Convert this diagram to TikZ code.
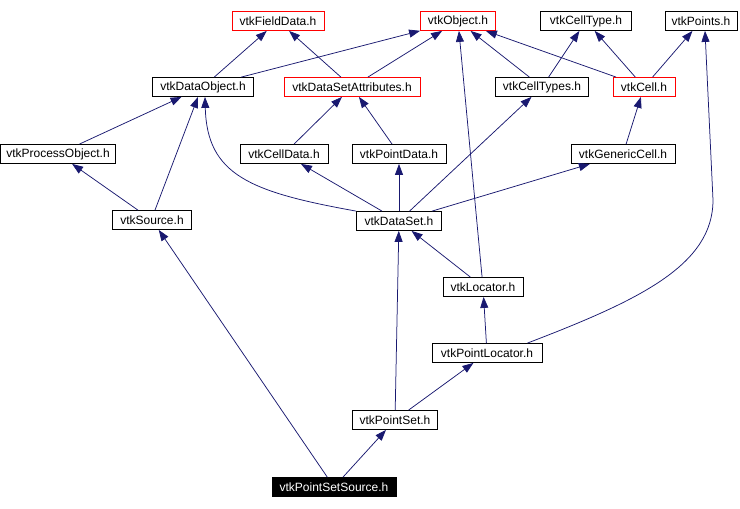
\documentclass[tikz,border=0pt]{standalone}
\usepackage{fontspec}
\setmainfont{Liberation Sans}
\usetikzlibrary{arrows.meta}
\definecolor{edgeblue}{HTML}{191970}

\begin{document}
\begin{tikzpicture}[x=1pt, y=-1pt,
        file/.style={draw=black, fill=white, line width=0.8pt, inner xsep=2pt, inner ysep=0pt, minimum height=19pt, font=\fontsize{12}{14}\selectfont},
        missing/.style={file, draw=red},
        current/.style={file, fill=black, text=white},
        link/.style={draw=edgeblue, line width=0.75pt, -{Triangle[length=11pt, width=8pt]}},
        every edge/.style={link}
    ]
        \useasboundingbox (0,0) rectangle (740,509);

        % headers, first row
        \node[missing, minimum width=92] (FieldData) at (278,21) {vtkFieldData.h};
        \node[missing, minimum width=75] (Object) at (458,21) {vtkObject.h};
        \node[file, minimum width=91] (CellType) at (586,21) {vtkCellType.h};
        \node[file, minimum width=72] (Points) at (701,21) {vtkPoints.h};

        % second row
        \node[file, minimum width=101] (DataObject) at (203,87) {vtkDataObject.h};
        \node[missing, minimum width=136] (DataSetAttributes) at (352,87) {vtkDataSetAttributes.h};
        \node[file, minimum width=93] (CellTypes) at (542,87) {vtkCellTypes.h};
        \node[missing, minimum width=62] (Cell) at (644,87) {vtkCell.h};

        % third row
        \node[file, minimum width=115] (ProcessObject) at (58,154) {vtkProcessObject.h};
        \node[file, minimum width=88] (CellData) at (284,154) {vtkCellData.h};
        \node[file, minimum width=94] (PointData) at (399,154) {vtkPointData.h};
        \node[file, minimum width=104] (GenericCell) at (623,154) {vtkGenericCell.h};

        % lower part
        \node[file, minimum width=79] (Source) at (152,220) {vtkSource.h};
        \node[file, minimum width=85] (DataSet) at (399,221) {vtkDataSet.h};
        \node[file, minimum width=80] (Locator) at (483,287) {vtkLocator.h};
        \node[file, minimum width=110] (PointLocator) at (487,353) {vtkPointLocator.h};
        \node[file, minimum width=85] (PointSet) at (395,420) {vtkPointSet.h};
        \node[current, minimum width=124] (PointSetSource) at (334,487) {vtkPointSetSource.h};

        % includes
        \path (DataObject) edge (FieldData);
        \path (DataObject) edge (Object);
        \path (DataSetAttributes) edge (FieldData);
        \path (DataSetAttributes) edge (Object);
        \path (CellTypes) edge (Object);
        \path (CellTypes) edge (CellType);
        \path (Cell) edge (Object);
        \path (Cell) edge (CellType);
        \path (Cell) edge (Points);
        \path (ProcessObject) edge (DataObject);
        \path (Source) edge (ProcessObject);
        \path ([xshift=3]Source.north) edge ([xshift=-5]DataObject.south);
        \path (CellData) edge (DataSetAttributes);
        \path (PointData) edge (DataSetAttributes);
        \path (GenericCell) edge (Cell);
        \draw[link] (DataSet.north west) .. controls (250,192) and (207,175) .. ([xshift=2]DataObject.south);
        \path (DataSet) edge (CellData);
        \path (DataSet) edge (PointData);
        \path (DataSet) edge (CellTypes);
        \path (DataSet) edge (GenericCell);
        \path (Locator) edge (DataSet);
        \path (Locator) edge (Object);
        \path (PointLocator) edge (Locator);
        \draw[link] ([xshift=-15]PointLocator.north east) .. controls (640,300) and (713,265) .. (713,200) -- ([xshift=4]Points.south);
        \path (PointSet) edge (DataSet);
        \path (PointSet) edge (PointLocator);
        \path (PointSetSource) edge (Source);
        \path (PointSetSource) edge (PointSet);
    \end{tikzpicture}
\end{document}
